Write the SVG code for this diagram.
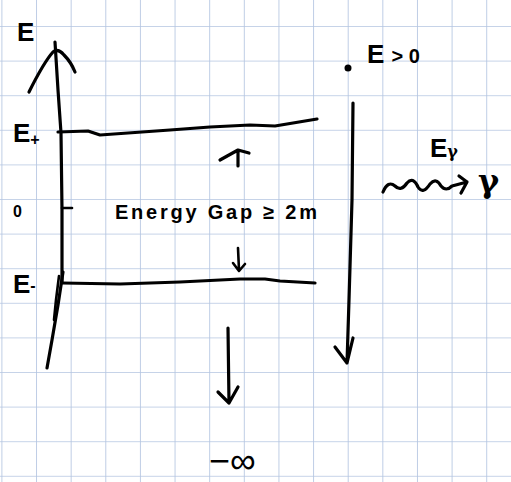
<svg xmlns="http://www.w3.org/2000/svg" width="511" height="482" viewBox="0 0 511 482">
<defs>
<pattern id="grid" x="1.4" y="26" width="34.63" height="34.6" patternUnits="userSpaceOnUse">
<path d="M0,0 H34.63 M0,0 V34.6" fill="none" stroke="#b3c5e1" stroke-width="1.7"/>
</pattern>
</defs>
<style>
.ink{fill:none;stroke:#000;stroke-width:3.2;stroke-linecap:round;stroke-linejoin:round}
.thin{fill:none;stroke:#000;stroke-width:2.6;stroke-linecap:round;stroke-linejoin:round}
text{font-family:"Liberation Sans","DejaVu Sans",sans-serif;fill:#000}
.lbl{font-size:26px;font-weight:bold}
.sm{font-size:16px;font-weight:bold}
.greek{font-family:"DejaVu Serif","Liberation Serif",serif}
</style>
<rect width="511" height="482" fill="#fff"/>
<rect width="511" height="482" fill="url(#grid)"/>

<g id="energy-axis">
<path class="ink" d="M55,42 L58,90 L61,133 L62,210 L62,282"/>
<path class="ink" d="M63,272 L58,305 L52,340 L47,368"/>
<path class="thin" d="M59,276 L56,300 L54,320"/>
<path class="ink" d="M29,92 Q44,62 53,52 Q58,48 64,55 Q71,62 75,72"/>
<path class="thin" d="M62,208 L72,208"/>
<text class="lbl" x="17" y="41">E</text>
</g>

<g id="level-plus">
<path class="ink" d="M58,132 L88,131 L100,135 L128,133 L170,130 L210,127 L250,125 L275,126 L317,119"/>
<text class="lbl" x="13" y="142" font-size="22">E<tspan font-size="16" dy="3">+</tspan></text>
</g>

<g id="zero-mark">
<text class="sm" x="13" y="217">0</text>
</g>

<g id="level-minus">
<path class="ink" d="M62,283 L120,284 L180,282 L240,279 L265,279 L280,281 L315,283"/>
<text class="lbl" x="13" y="293" font-size="22">E<tspan font-size="16" dy="-2">-</tspan></text>
</g>

<g id="gap-label">
<text x="115" y="219" font-size="20" font-weight="bold" textLength="202" lengthAdjust="spacing">Energy Gap ≥ 2m</text>
</g>

<g id="e-positive">
<circle cx="348" cy="68" r="3.5" fill="#000"/>
<text class="lbl" x="367" y="63" font-size="24">E <tspan font-size="20">&gt; 0</tspan></text>
</g>

<g id="photon">
<text class="lbl" x="430" y="157" font-size="22">E<tspan class="greek" font-size="16">γ</tspan></text>
<text class="greek" x="478" y="192" font-size="32" font-weight="bold">γ</text>
</g>

<g id="minus-infinity">
<text x="209" y="473" font-size="36">−∞</text>
</g>

<g id="connectors">
<path class="ink" d="M238,166 L238,150 M220,160 L238,150 L249,153"/>
<path class="thin" d="M238,248 L239,270 M233,263 L239,271 L245,264"/>
<path class="ink" d="M353,103 L352,200 L349,300 L347,363 M335,347 L347,363 L353,338"/>
<path class="ink" d="M383,192 Q388,180 395,186 Q401,192 407,183 Q413,176 418,187 Q423,195 430,184 Q436,177 441,186 Q446,192 452,186 L467,182 M459,176 L467,182 L461,193"/>
<path class="ink" d="M228,328 L229,403 M218,392 L229,403 L238,387"/>
</g>
</svg>
